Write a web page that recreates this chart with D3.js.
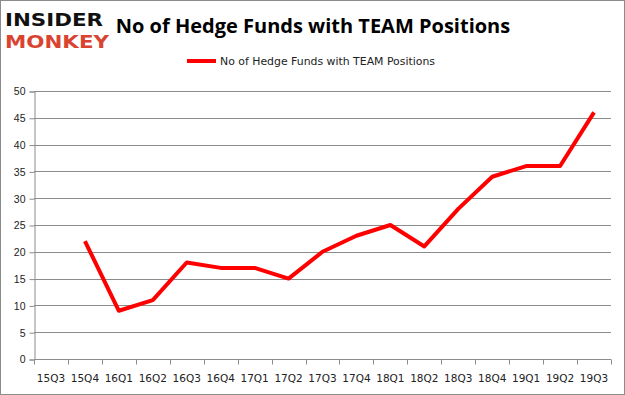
<!DOCTYPE html>
<html>
<head>
<meta charset="utf-8">
<script src="https://cdn.jsdelivr.net/npm/d3@7"></script>
<style>
  body { margin: 0; background: #fff; }
  svg { display: block; font-family: "DejaVu Sans", "Liberation Sans", sans-serif; }
</style>
</head>
<body>
<div id="chart"></div>
<script>
// quarters and hedge fund counts (15Q3 has no value)
const quarters = ['15Q3', '15Q4', '16Q1', '16Q2', '16Q3', '16Q4', '17Q1', '17Q2', '17Q3',
  '17Q4', '18Q1', '18Q2', '18Q3', '18Q4', '19Q1', '19Q2', '19Q3'];
const funds = [null, 22, 9, 11, 18, 17, 17, 15, 20, 23, 25, 21, 28, 34, 36, 36, 46];
const yTicks = [0, 5, 10, 15, 20, 25, 30, 35, 40, 45, 50];
const seriesName = 'No of Hedge Funds with TEAM Positions';

const width = 625;
const height = 395;
const margin = { top: 91, right: 14, bottom: 36, left: 34 };

const svg = d3.select('#chart')
  .append('svg')
  .attr('width', width)
  .attr('height', height);

// outer frame
svg.append('rect')
  .attr('x', 0.5).attr('y', 0.5)
  .attr('width', width - 1).attr('height', height - 1)
  .attr('fill', '#fff')
  .attr('stroke', '#8c8c8c');

const x = d3.scaleBand()
  .domain(quarters)
  .range([margin.left, width - margin.right]);

const y = d3.scaleLinear()
  .domain([0, 50])
  .range([height - margin.bottom, margin.top]);

// gridlines
svg.append('g')
  .selectAll('line')
  .data(yTicks.slice(1))
  .join('line')
  .attr('x1', margin.left)
  .attr('x2', width - margin.right)
  .attr('y1', (d) => Math.round(y(d)) + 0.5)
  .attr('y2', (d) => Math.round(y(d)) + 0.5)
  .attr('stroke', '#8c8c8c');

// y axis
const yAxis = svg.append('g')
  .attr('transform', `translate(${margin.left + 0.5},0.5)`)
  .call(d3.axisLeft(y).tickValues(yTicks).tickSize(5).tickPadding(4));
yAxis.select('.domain').attr('stroke', '#8c8c8c');
yAxis.selectAll('.tick line').attr('stroke', '#8c8c8c');
yAxis.selectAll('text').attr('fill', '#222').attr('font-size', 10.5);

// x axis, ticks on band edges
const xAxis = svg.append('g')
  .attr('transform', `translate(0,${Math.round(y(0)) + 0.5})`);
xAxis.append('line')
  .attr('x1', margin.left)
  .attr('x2', width - margin.right)
  .attr('stroke', '#8c8c8c');
xAxis.selectAll('.edge')
  .data(quarters.concat(['end']))
  .join('line')
  .attr('class', 'edge')
  .attr('x1', (d, i) => Math.round(margin.left + i * x.bandwidth()) + 0.5)
  .attr('x2', (d, i) => Math.round(margin.left + i * x.bandwidth()) + 0.5)
  .attr('y1', 0)
  .attr('y2', 5)
  .attr('stroke', '#8c8c8c');
xAxis.selectAll('.lbl')
  .data(quarters)
  .join('text')
  .attr('class', 'lbl')
  .attr('x', (d) => x(d) + x.bandwidth() / 2)
  .attr('y', 22)
  .attr('text-anchor', 'middle')
  .attr('font-size', 10.5)
  .attr('fill', '#222')
  .text((d) => d);

// the line
const line = d3.line()
  .defined((d) => d != null)
  .x((d, i) => x(quarters[i]) + x.bandwidth() / 2)
  .y((d) => y(d));

svg.append('path')
  .datum(funds)
  .attr('fill', 'none')
  .attr('stroke', '#ff0000')
  .attr('stroke-width', 4)
  .attr('stroke-linejoin', 'round')
  .attr('d', line);

// legend
svg.append('line')
  .attr('x1', 187).attr('x2', 216)
  .attr('y1', 61).attr('y2', 61)
  .attr('stroke', '#ff0000')
  .attr('stroke-width', 4);
svg.append('text')
  .attr('x', 220)
  .attr('y', 65)
  .attr('font-size', 11)
  .attr('textLength', 215)
  .attr('lengthAdjust', 'spacingAndGlyphs')
  .attr('fill', '#222')
  .text(seriesName);

// title
svg.append('text')
  .attr('x', 313)
  .attr('y', 33)
  .attr('text-anchor', 'middle')
  .attr('font-family', '"Open Sans", sans-serif')
  .attr('font-weight', 'bold')
  .attr('font-size', 20)
  .attr('fill', '#000')
  .text('No of Hedge Funds with ' + 'TEAM Positions');

// logo
svg.append('text')
  .attr('x', 5).attr('y', 26)
  .attr('font-family', '"DejaVu Sans", sans-serif')
  .attr('font-weight', 'bold')
  .attr('font-size', 18)
  .attr('textLength', 98)
  .attr('lengthAdjust', 'spacingAndGlyphs')
  .attr('fill', '#111')
  .text('INSIDER');
svg.append('text')
  .attr('x', 5).attr('y', 48)
  .attr('font-family', '"DejaVu Sans", sans-serif')
  .attr('font-weight', 'bold')
  .attr('font-size', 18)
  .attr('textLength', 104)
  .attr('lengthAdjust', 'spacingAndGlyphs')
  .attr('fill', '#d9432f')
  .text('MONKEY');
</script>
</body>
</html>
